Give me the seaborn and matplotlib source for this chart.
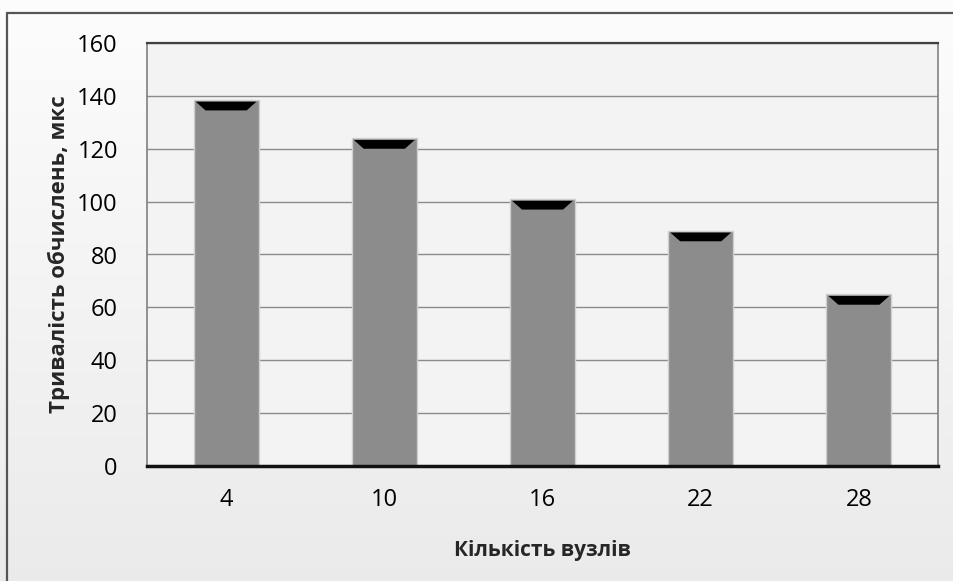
import numpy as np
import seaborn as sns
import matplotlib.pyplot as plt
from matplotlib.patches import Polygon
from matplotlib.lines import Line2D

# дані з графіка
vuzly = ['4', '10', '16', '22', '28']
tryvalist = [138.5, 124, 101, 89, 65]
y_ticks = [0, 20, 40, 60, 80, 100, 120, 140, 160]

sns.set_style('white')
plt.rcParams['font.family'] = ['Open Sans', 'DejaVu Sans']

fig = plt.figure(figsize=(9.54, 5.81), dpi=100)

# фон з легким градієнтом
bg = fig.add_axes([0, 0, 1, 1], zorder=-10)
grad = np.linspace(0.99, 0.92, 256).reshape(-1, 1)
bg.imshow(np.dstack([grad, grad, grad]), aspect='auto', extent=[0, 1, 0, 1])
bg.axis('off')

ax = fig.add_axes([147 / 954, 1 - 466 / 581, (938 - 147) / 954, (466 - 43) / 581])
ax.set_facecolor('#f3f3f3')

sns.barplot(x=vuzly, y=tryvalist, color='#8c8c8c', saturation=1, width=0.41,
            edgecolor='#cfcfcf', linewidth=1, ax=ax, zorder=3)

# темна "кришка" зверху кожного стовпчика
for p in ax.patches:
    x0, w, h = p.get_x(), p.get_width(), p.get_height()
    cap = Polygon([(x0 + 0.013, h - 0.7), (x0 + w - 0.013, h - 0.7),
                   (x0 + w - 0.075, h - 4.0), (x0 + 0.075, h - 4.0)],
                  closed=True, facecolor='black', edgecolor='none', zorder=4)
    ax.add_patch(cap)

ax.set_ylim(0, 160)
ax.set_xlim(-0.5, 4.5)
ax.set_yticks(y_ticks)
ax.yaxis.grid(True, color='#8a8a8a', linewidth=1)
ax.set_axisbelow(True)

ax.set_xticks(range(len(vuzly)))
ax.set_xticklabels(vuzly)
ax.set_xticks(np.arange(-0.5, len(vuzly)), minor=True)
ax.tick_params(axis='x', which='major', length=0, pad=16, labelsize=17, labelcolor='#000000')
ax.tick_params(axis='x', which='minor', length=9, width=1, color='#777777', direction='out')
ax.tick_params(axis='y', length=9, width=1, color='#777777', direction='out', pad=12,
               labelsize=17, labelcolor='#000000')

for s in ['left', 'right']:
    ax.spines[s].set_color('#808080')
    ax.spines[s].set_linewidth(1.2)
ax.spines['top'].set_color('#404040')
ax.spines['top'].set_linewidth(1.6)
ax.spines['bottom'].set_color('#111111')
ax.spines['bottom'].set_linewidth(2.5)
ax.spines['bottom'].set_zorder(5)

ax.set_xlabel('Кількість вузлів', fontsize=15, fontweight='bold', labelpad=20)
ax.set_ylabel('Тривалість обчислень, мкс', fontsize=16, fontweight='bold', labelpad=5)

# рамка навколо діаграми
fig.add_artist(Line2D([7 / 954, 1.0], [1 - 13 / 581, 1 - 13 / 581], color='#555555', linewidth=1.6))
fig.add_artist(Line2D([7 / 954, 7 / 954], [0, 1 - 13 / 581], color='#555555', linewidth=1.6))

plt.savefig('out.png', dpi=100)
plt.close()
